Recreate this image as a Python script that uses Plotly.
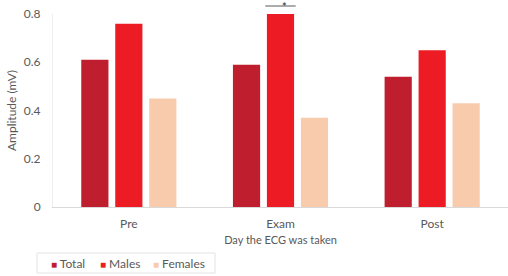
import plotly.graph_objects as go

categories = ["Pre", "Exam", "Post"]
total = [0.61, 0.59, 0.54]
males = [0.76, 0.80, 0.65]
females = [0.45, 0.37, 0.43]
series_names = ["Total", "Males", "Females"]
colors = ["#BE1E2D", "#ED1C24", "#F8CBAD"]

W, H = 508, 276
L, R, T, B = 53, 0, 14, 69
PW, PH = W - L - R, H - T - B


def px_x(px):
    return (px - L) / PW


def px_y(py):
    return (H - B - py) / PH


fig = go.Figure()
for name, vals, col in zip(series_names, [total, males, females], colors):
    fig.add_trace(go.Bar(x=categories, y=vals, name=name, marker_color=col,
                         marker_line_width=0))

font_family = "Lato, Open Sans, sans-serif"
gray = "#595959"

fig.update_layout(
    width=W, height=H,
    margin=dict(l=L, r=R, t=T, b=B, autoexpand=False),
    paper_bgcolor="white", plot_bgcolor="white",
    barmode="group", bargap=0.328, bargroupgap=0.2,
    font=dict(family=font_family, size=11, color=gray),
    showlegend=False,
    xaxis=dict(showgrid=False, showline=True, linecolor="#D9D9D9", linewidth=1,
               ticks="", tickfont=dict(size=12, color=gray), ticklabelstandoff=6,
               automargin=False,
               title=dict(text="Day the ECG was taken", font=dict(size=11, color=gray), standoff=5)),
    yaxis=dict(range=[0, 0.8], showgrid=False, showline=True,
               linecolor="#EEEEEE", linewidth=1, zeroline=False, ticks="",
               tickvals=[0, 0.2, 0.4, 0.6, 0.8], ticktext=["0", "0.2", "0.4", "0.6", "0.8"],
               tickfont=dict(size=12, color=gray), ticklabelstandoff=9, automargin=False,
               title=dict(text="Amplitude (mV)", font=dict(size=12, color=gray), standoff=4)),
)

# significance bar above Exam males
fig.add_shape(type="line", xref="x", yref="paper", x0=0.9, x1=1.1,
              y0=px_y(6), y1=px_y(6), line=dict(color="#595959", width=1))
fig.add_annotation(x="Exam", y=px_y(-2), xref="x", yref="paper", text="*", showarrow=False,
                   yanchor="top", xshift=4, font=dict(size=11, color="#222222"))

# legend box and entries
fig.add_shape(type="rect", xref="paper", yref="paper", x0=px_x(37), x1=px_x(215),
              y0=px_y(253), y1=px_y(273), line=dict(color="#E3E3E3", width=1),
              fillcolor="rgba(0,0,0,0)")
legend_x = [49, 98, 151]
for name, col, lx in zip(series_names, colors, legend_x):
    fig.add_annotation(xref="paper", yref="paper", x=px_x(lx), y=px_y(263),
                       xanchor="left", yanchor="middle", showarrow=False,
                       text=f'<span style="color:{col};font-size:10px">■</span> {name}',
                       font=dict(size=12, color=gray))

fig.write_html("out.html", config={"displayModeBar": False},
               post_script="document.body.style.margin='0';document.body.style.overflow='hidden';")
